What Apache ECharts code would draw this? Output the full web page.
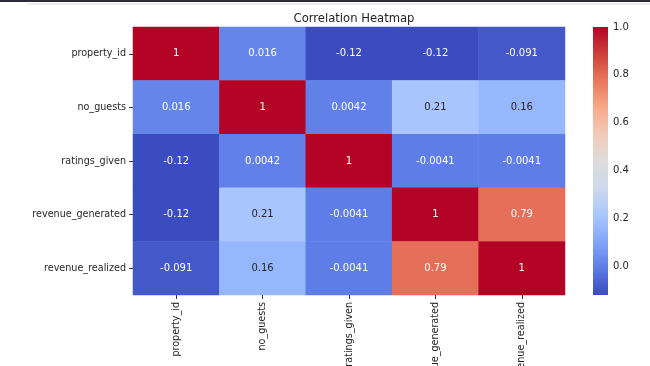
<!DOCTYPE html>
<html>
<head>
<meta charset="utf-8">
<script src="https://cdn.jsdelivr.net/npm/echarts@6/dist/echarts.min.js"></script>
<style>
html,body{margin:0;padding:0;background:#fff;}
#chart{width:650px;height:366px;}
</style>
</head>
<body>
<div id="chart"></div>
<script>
var categories = ['property_id', 'no_guests', 'ratings_given', 'revenue_generated', 'revenue_realized'];
var matrix = [
  [1, 0.016, -0.12, -0.12, -0.091],
  [0.016, 1, 0.0042, 0.21, 0.16],
  [-0.12, 0.0042, 1, -0.0041, -0.0041],
  [-0.12, 0.21, -0.0041, 1, 0.79],
  [-0.091, 0.16, -0.0041, 0.79, 1]
];
var colorMin = -0.12;
var colorMax = 1;
var colorbarTicks = [0, 0.2, 0.4, 0.6, 0.8, 1.0];
var coolwarm = ['#3b4cc0', '#5d7ce6', '#82a6fb', '#aac7fd', '#cdd9ec', '#dddcdc', '#f2cbb7', '#f7a889', '#e8765c', '#cc403a', '#b40426'];

var data = [];
for (var r = 0; r < categories.length; r++) {
  for (var c = 0; c < categories.length; c++) {
    var v = matrix[r][c];
    var dark = v > 0.1 && v < 0.6;
    data.push({ value: [c, r, v], label: { color: dark ? '#262626' : '#ffffff' } });
  }
}

var stops = coolwarm.map(function (col, i) { return { offset: i / (coolwarm.length - 1), color: col }; });

var chart = echarts.init(document.getElementById('chart'), null, { renderer: 'canvas' });
chart.setOption({
  backgroundColor: '#ffffff',
  animation: false,
  textStyle: { fontFamily: 'DejaVu Sans' },
  title: {
    text: 'Correlation Heatmap',
    left: 349, top: 8, textAlign: 'center',
    textStyle: { fontSize: 11.6, fontWeight: 'normal', color: '#222', fontFamily: 'DejaVu Sans' }
  },
  graphic: [
    { type: 'rect', left: 0, top: 0, shape: { width: 650, height: 2 }, style: { fill: '#2b2c38' }, silent: true },
    { type: 'rect', left: 27, top: 3, shape: { width: 623, height: 2 }, style: { fill: '#ececf0' }, silent: true }
  ],
  grid: [
    { left: 133, top: 27, width: 432, height: 268, outerBoundsMode: 'none', containLabel: false },
    { left: 593, top: 27, width: 15, height: 268, outerBoundsMode: 'none', containLabel: false }
  ],
  xAxis: [
    {
      type: 'category', data: categories, gridIndex: 0,
      axisLine: { show: false },
      axisTick: { show: true, alignWithLabel: true, length: 4, lineStyle: { color: '#333' } },
      axisLabel: { rotate: 90, fontSize: 9.6, color: '#262626', margin: 7, interval: 0, hideOverlap: false },
      splitLine: { show: false }
    },
    { type: 'value', gridIndex: 1, min: 0, max: 1, show: false }
  ],
  yAxis: [
    {
      type: 'category', data: categories, gridIndex: 0, inverse: true,
      axisLine: { show: false },
      axisTick: { show: true, alignWithLabel: true, length: 4, lineStyle: { color: '#333' } },
      axisLabel: { fontSize: 9.6, color: '#262626', margin: 7, interval: 0 },
      splitLine: { show: false }
    },
    {
      type: 'value', gridIndex: 1, position: 'right', min: colorMin, max: colorMax,
      axisLine: { show: false },
      axisTick: { show: true, length: 3, lineStyle: { color: '#333' }, customValues: colorbarTicks },
      axisLabel: { fontSize: 10, color: '#262626', margin: 5, customValues: colorbarTicks,
        formatter: function (v) { return v.toFixed(1); } },
      splitLine: { show: false }
    }
  ],
  visualMap: {
    show: false, type: 'continuous', min: colorMin, max: colorMax, seriesIndex: 0, dimension: 2,
    inRange: { color: coolwarm }
  },
  series: [
    {
      type: 'heatmap', xAxisIndex: 0, yAxisIndex: 0, data: data,
      label: { show: true, fontSize: 10, fontFamily: 'DejaVu Sans', formatter: function (p) { return String(p.value[2]); } },
      itemStyle: { borderWidth: 0 },
      emphasis: { disabled: true }
    },
    {
      type: 'custom', xAxisIndex: 1, yAxisIndex: 1, silent: true,
      data: [[0, colorMin, 1, colorMax]],
      renderItem: function (params, api) {
        var p0 = api.coord([api.value(0), api.value(1)]);
        var p1 = api.coord([api.value(2), api.value(3)]);
        return {
          type: 'rect',
          shape: { x: p0[0], y: p1[1], width: p1[0] - p0[0], height: p0[1] - p1[1] },
          style: { fill: new echarts.graphic.LinearGradient(0, 1, 0, 0, stops) }
        };
      }
    }
  ]
});
</script>
</body>
</html>
